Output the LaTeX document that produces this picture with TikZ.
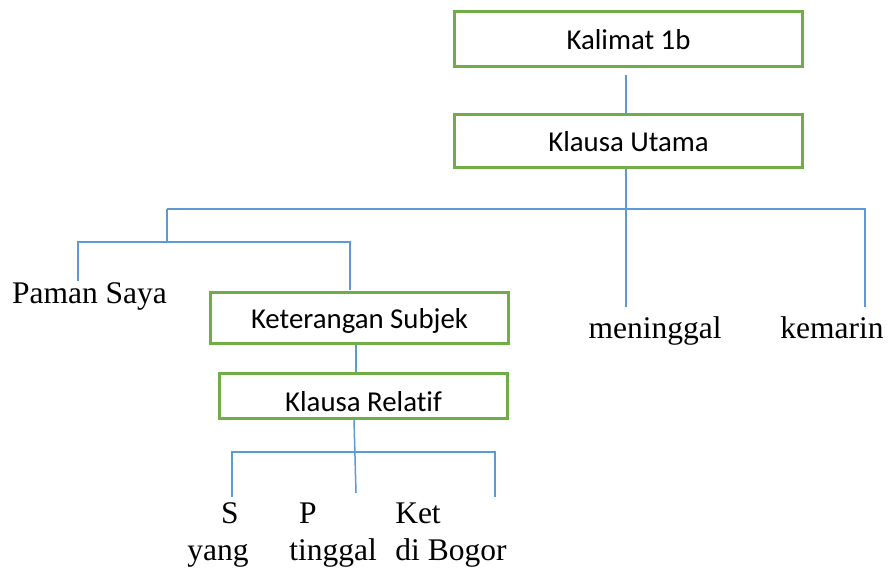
\documentclass[tikz,border=0pt]{standalone}
\usepackage{fontspec}
\setmainfont{Liberation Serif}
\newfontfamily\boxfont[Ligatures=NoCommon]{Carlito}
\definecolor{boxgreen}{HTML}{70AD47}
\definecolor{linkblue}{HTML}{5B9BD5}
\begin{document}
\begin{tikzpicture}[x=1pt,y=-1pt,
  greenbox/.style={draw=boxgreen,line width=3pt,fill=white,inner sep=2pt,
    font=\boxfont\fontsize{28.8}{34}\selectfont,text height=20pt,text depth=0pt},
  lbl/.style={anchor=base,inner sep=0pt,font=\fontsize{31.5}{36}\selectfont},
  conn/.style={draw=linkblue,line width=1.5pt}]
\useasboundingbox (0,0) rectangle (889,570);
% boxes
\node[greenbox,minimum width=348pt,minimum height=55pt] (kal) at (628.5,39) {Kalimat 1b};
\node[greenbox,minimum width=348pt,minimum height=53pt] (ku) at (628.5,141) {Klausa Utama};
\node[greenbox,minimum width=298pt,minimum height=51pt] (ks) at (359.5,318) {Keterangan Subjek};
\node[greenbox,minimum width=288pt,minimum height=45pt,text height=30pt] (kr) at (363.5,396) {Klausa Relatif};
% labels
\node[lbl] (paman) at (89.5,303) {Paman Saya};
\node[lbl] (men) at (655,338) {meninggal};
\node[lbl] (kem) at (832,338) {kemarin};
\node[lbl] (s) at (230,523) {S};
\node[lbl] (p) at (308,523) {P};
\node[lbl] (ket) at (418,523) {Ket};
\node[lbl] (yang) at (218,560) {yang};
\node[lbl] (tinggal) at (333,560) {tinggal};
\node[lbl] (dibogor) at (451,560) {di Bogor};
% junction coordinates
\coordinate (menTop) at (626,307);
\coordinate (jL) at (167,209);
\coordinate (jR) at (865,209);
\coordinate (kemTop) at (865,307);
\coordinate (jM) at (167,242);
\coordinate (pamTop) at (78,281);
\coordinate (ksTop) at (350,290);
\coordinate (pTop) at (356,493);
\coordinate (hr) at (354,452);
\coordinate (sTop) at (232,497);
\coordinate (ketTop) at (495,497);
% connectors
\draw[conn,shorten <=7pt] ([xshift=-2.5pt]kal.south) -- ([xshift=-2.5pt]ku.north);
\draw[conn] ([xshift=-2.5pt]ku.south) -- (menTop);
\draw[conn] (jL) -- (jR) -- (kemTop);
\draw[conn] (jL) -- (jM);
\draw[conn] (pamTop) -- (pamTop |- jM) -- (ksTop |- jM) -- (ksTop);
\draw[conn] ([xshift=-3.5pt]ks.south) -- ([xshift=-3.5pt]ks.south |- kr.north);
\draw[conn] ([xshift=-9.5pt]kr.south) -- (pTop);
\draw[conn] (sTop) |- (hr) -| (ketTop);
\end{tikzpicture}
\end{document}
